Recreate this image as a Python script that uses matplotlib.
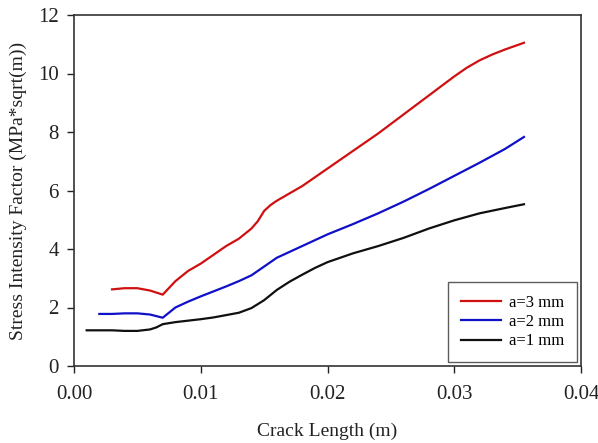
import matplotlib
matplotlib.use("Agg")
import matplotlib.pyplot as plt

plt.rcParams['font.family'] = ['Liberation Serif', 'DejaVu Serif']

x_a3 = [0.003, 0.004, 0.005, 0.006, 0.007, 0.008, 0.009, 0.010, 0.011, 0.012, 0.013,
        0.014, 0.0145, 0.015, 0.0155, 0.016, 0.017, 0.018, 0.019, 0.020, 0.022, 0.024,
        0.026, 0.028, 0.030, 0.031, 0.032, 0.033, 0.034, 0.0355]
k_a3 = [2.62, 2.66, 2.66, 2.58, 2.44, 2.90, 3.25, 3.50, 3.80, 4.10, 4.35,
        4.70, 4.95, 5.30, 5.50, 5.65, 5.90, 6.15, 6.45, 6.75, 7.35, 7.95,
        8.60, 9.25, 9.90, 10.20, 10.45, 10.65, 10.82, 11.05]

x_a2 = [0.002, 0.003, 0.004, 0.005, 0.006, 0.007, 0.008, 0.009, 0.010, 0.011, 0.012,
        0.013, 0.014, 0.015, 0.016, 0.017, 0.018, 0.019, 0.020, 0.022, 0.024, 0.026,
        0.028, 0.030, 0.032, 0.034, 0.0355]
k_a2 = [1.78, 1.78, 1.80, 1.80, 1.76, 1.65, 2.00, 2.20, 2.38, 2.55, 2.72,
        2.90, 3.10, 3.40, 3.70, 3.90, 4.10, 4.30, 4.50, 4.85, 5.22, 5.62,
        6.05, 6.50, 6.95, 7.42, 7.83]

x_a1 = [0.001, 0.002, 0.003, 0.004, 0.005, 0.006, 0.0065, 0.007, 0.008, 0.009, 0.010,
        0.011, 0.012, 0.013, 0.014, 0.015, 0.016, 0.017, 0.018, 0.019, 0.020, 0.022,
        0.024, 0.026, 0.028, 0.030, 0.032, 0.034, 0.0355]
k_a1 = [1.22, 1.22, 1.22, 1.20, 1.20, 1.25, 1.32, 1.43, 1.50, 1.55, 1.60,
        1.66, 1.74, 1.82, 1.98, 2.25, 2.60, 2.88, 3.12, 3.35, 3.55, 3.85,
        4.10, 4.38, 4.70, 4.98, 5.22, 5.40, 5.53]

labels = ['a=3 mm', 'a=2 mm', 'a=1 mm']
colors = ['#d01010', '#1010c8', '#101010']

fig = plt.figure(figsize=(5.98, 4.43), dpi=100)
ax = fig.add_axes([74/598, 1 - 366/443, (581-74)/598, (366-15)/443])

ax.plot(x_a3, k_a3, color=colors[0], lw=1.6, label=labels[0])
ax.plot(x_a2, k_a2, color=colors[1], lw=1.6, label=labels[1])
ax.plot(x_a1, k_a1, color=colors[2], lw=1.6, label=labels[2])

ax.set_xlim(0, 0.04)
ax.set_ylim(0, 12)
ax.set_xticks([0.0, 0.01, 0.02, 0.03, 0.04])
ax.set_xticklabels(['0.00', '0.01', '0.02', '0.03', '0.04'])
ax.set_yticks([0, 2, 4, 6, 8, 10, 12])
ax.tick_params(direction='out', length=5, width=1, labelsize=15, pad=6, colors='#222222')
ax.tick_params(axis='x', pad=9)
for s in ax.spines.values():
    s.set_linewidth(1.2)
    s.set_color('#333333')

ax.set_xlabel('Crack Length (m)', fontsize=14, labelpad=13, color='#222222')
ax.set_ylabel('Stress Intensity Factor (MPa*sqrt(m))', fontsize=14, labelpad=8, color='#222222')

leg = ax.legend(loc='lower right', fontsize=12, frameon=True, fancybox=False,
                edgecolor='#333333', handlelength=2.4, borderpad=0.75,
                labelspacing=0.2, borderaxespad=0.25, handletextpad=0.5)
leg.get_frame().set_linewidth(1.0)

fig.savefig('out.png', dpi=100)
